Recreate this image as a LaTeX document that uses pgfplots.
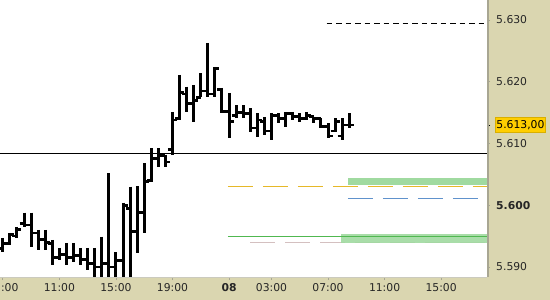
\documentclass[border=0pt]{standalone}
\usepackage{fontspec}
\setmainfont{DejaVu Sans}
\usepackage{pgfplots}
\usepackage{pgfplotstable}
\pgfplotsset{compat=1.18}

\definecolor{panel}{RGB}{218,214,176}
\definecolor{frameshade}{RGB}{168,166,146}
\definecolor{pricegold}{RGB}{255,206,0}
\definecolor{levelgold}{RGB}{230,184,40}
\definecolor{levelblue}{RGB}{96,146,204}
\definecolor{levelgreen}{RGB}{80,184,80}
\definecolor{levelgray}{RGB}{212,192,192}
\definecolor{zonegreen}{RGB}{160,218,160}

% vertical points per price unit (277pt over 0.04486)
\def\pricescale{6174.8}

% open tick to the left, close tick to the right of each bar
\pgfdeclareplotmark{ohlcopen}{%
  \pgfpathmoveto{\pgfqpoint{-4.5pt}{0pt}}%
  \pgfpathlineto{\pgfqpoint{0pt}{0pt}}%
  \pgfusepathqstroke}
\pgfdeclareplotmark{ohlcclose}{%
  \pgfpathmoveto{\pgfqpoint{0pt}{0pt}}%
  \pgfpathlineto{\pgfqpoint{4.5pt}{0pt}}%
  \pgfusepathqstroke}
% high-low stem, drawn downward from the high
\pgfdeclareplotmark{ohlcstem}{%
  \pgfpathmoveto{\pgfpoint{0pt}{0pt}}%
  \pgfpathlineto{\pgfpoint{0pt}{-\hlspan pt}}%
  \pgfusepathqstroke}

% half-hour bars: index, open, high, low, close
\pgfplotstableread{
k  O      H      L      C
0  5.5930 5.5947 5.5924 5.5938
1  5.5938 5.5955 5.5936 5.5952
2  5.5950 5.5965 5.5947 5.5960
3  5.5970 5.5988 5.5965 5.5968
4  5.5968 5.5988 5.5932 5.5955
5  5.5955 5.5960 5.5928 5.5945
6  5.5945 5.5960 5.5928 5.5940
7  5.5938 5.5944 5.5903 5.5915
8  5.5915 5.5931 5.5911 5.5920
9  5.5920 5.5939 5.5903 5.5915
10 5.5915 5.5939 5.5908 5.5918
11 5.5918 5.5931 5.5903 5.5912
12 5.5912 5.5931 5.5895 5.5905
13 5.5905 5.5931 5.5870 5.5900
14 5.5900 5.5949 5.5870 5.5905
15 5.5905 5.6052 5.5870 5.5900
16 5.5900 5.5924 5.5870 5.5910
17 5.5910 5.6004 5.5870 5.6000
18 5.5995 5.6030 5.5870 5.5957
19 5.5957 5.6031 5.5923 5.5988
20 5.5988 5.6068 5.5955 5.6038
21 5.6040 5.6092 5.6038 5.6075
22 5.6075 5.6092 5.6062 5.6080
23 5.6080 5.6082 5.6062 5.6070
24 5.6090 5.6151 5.6081 5.6138
25 5.6140 5.6211 5.6138 5.6183
26 5.6180 5.6192 5.6151 5.6165
27 5.6165 5.6195 5.6135 5.6170
28 5.6175 5.6214 5.6175 5.6185
29 5.6185 5.6263 5.6175 5.6180
30 5.6180 5.6224 5.6175 5.6222
31 5.6188 5.6190 5.6149 5.6152
32 5.6152 5.6182 5.6109 5.6135
33 5.6145 5.6162 5.6141 5.6150
34 5.6150 5.6162 5.6141 5.6148
35 5.6148 5.6157 5.6119 5.6125
36 5.6125 5.6149 5.6111 5.6138
37 5.6135 5.6143 5.6114 5.6120
38 5.6120 5.6149 5.6106 5.6145
39 5.6145 5.6149 5.6133 5.6140
40 5.6140 5.6151 5.6127 5.6148
41 5.6148 5.6151 5.6138 5.6143
42 5.6143 5.6149 5.6135 5.6140
43 5.6140 5.6151 5.6138 5.6145
44 5.6143 5.6143 5.6133 5.6140
45 5.6140 5.6141 5.6125 5.6128
46 5.6128 5.6133 5.6109 5.6112
47 5.6120 5.6141 5.6119 5.6135
48 5.6112 5.6141 5.6106 5.6130
49 5.6130 5.6149 5.6125 5.6130
}\ohlc

\begin{document}
\begin{tikzpicture}
\fill[panel] (0pt,-300pt) rectangle (550pt,0pt);
\begin{axis}[
  at={(0pt,0pt)}, anchor=north west,
  scale only axis, width=487pt, height=277pt,
  % prices are measured from 5.6 internally to keep the scale small
  y coord trafo/.code={\pgfmathparse{#1-5.6}},
  y coord inv trafo/.code={\pgfmathparse{#1+5.6}},
  xmin=-0.4, xmax=68.49,
  ymin=5.58838, ymax=5.63324,
  axis background/.style={fill=white},
  axis line style={draw=none},
  clip mode=individual,
  tick align=outside,
  major tick length=3pt,
  tick style={color=frameshade, line width=0.8pt},
  xtick={0,8,16,24,32,38,46,54,62},
  xticklabels={07:00,11:00,15:00,19:00,\textbf{08},03:00,07:00,11:00,15:00},
  xticklabel style={anchor=north, inner sep=0pt, yshift=-3pt},
  ytick={5.59,5.60,5.61,5.62,5.63},
  yticklabels={5.590,\textbf{5.600},5.610,5.620,5.630},
  extra y ticks={5.613},
  extra y tick labels={},
  extra y tick style={tick style={color=black, line width=0.8pt}},
  yticklabel pos=right,
  ytick pos=right, xtick pos=bottom,
  yticklabel style={anchor=west, inner sep=0pt, xshift=6pt},
  tick label style={font=\fontsize{10.8}{13}\selectfont, text=black!85},
]
% support and resistance zones
\addplot[draw=none, fill=zonegreen] coordinates {(48.87,5.60328) (68.49,5.60328) (68.49,5.60437) (48.87,5.60437)} --cycle;
\addplot[levelgray, line width=1pt, dash pattern=on 25pt off 10pt] coordinates {(34.97,5.5940) (68.49,5.5940)};
\addplot[draw=none, fill=zonegreen, fill opacity=0.9] coordinates {(47.8,5.59394) (68.49,5.59394) (68.49,5.59530) (47.8,5.59530)} --cycle;
\addplot[levelgreen, line width=0.9pt] coordinates {(31.85,5.59491) (68.49,5.59491)};
\addplot[levelgold, line width=1.2pt, dash pattern=on 25pt off 10pt] coordinates {(31.85,5.60305) (68.49,5.60305)};
\addplot[levelblue, line width=1pt, dash pattern=on 25pt off 10pt] coordinates {(48.8,5.60113) (67.2,5.60113)};
\addplot[black, line width=0.9pt, dash pattern=on 5.5pt off 4pt] coordinates {(45.8,5.6295) (68.49,5.6295)};
\addplot[black, line width=0.9pt] coordinates {(-0.4,5.6084) (68.49,5.6084)};
% high-low ranges
\addplot[black, only marks, clip marker paths=true,
  mark=ohlcstem, mark options={line width=3pt},
  visualization depends on={\pricescale*(\thisrow{H}-\thisrow{L}) \as \hlspan}]
  table[x=k, y=H] {\ohlc};
% opens and closes
\addplot[black, only marks, clip marker paths=true, mark=ohlcopen, mark options={line width=2.8pt}] table[x=k, y=O] {\ohlc};
\addplot[black, only marks, clip marker paths=true, mark=ohlcclose, mark options={line width=2.8pt}] table[x=k, y=C] {\ohlc};
% last price tag
\node[anchor=west, fill=pricegold, draw=pricegold!85!black, line width=0.4pt,
  inner sep=1.2pt, minimum height=15pt, text=black,
  font=\fontsize{10.8}{13}\selectfont] at (axis cs:68.49,5.6130) [xshift=8pt] {5.613,00};
\end{axis}
% frame shading on the right and bottom of the plot area
\draw[frameshade, line width=2pt] (488pt,0pt) -- (488pt,-277pt);
\draw[frameshade!60, line width=0.8pt] (0pt,-277.4pt) -- (487pt,-277.4pt);
\pgfresetboundingbox
\path (0pt,-300pt) rectangle (550pt,0pt);
\end{tikzpicture}
\end{document}
